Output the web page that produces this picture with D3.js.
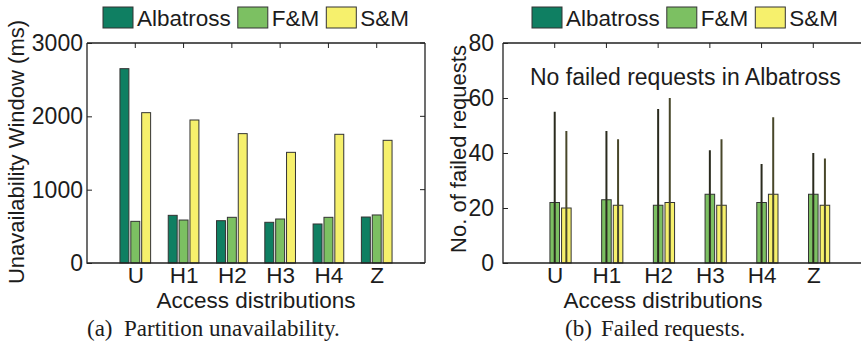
<!DOCTYPE html>
<html>
<head>
<meta charset="utf-8">
<script src="https://cdn.jsdelivr.net/npm/d3@7/dist/d3.min.js"></script>
<style>
  html, body { margin: 0; padding: 0; background: #fff; }
  svg { display: block; }
  text { font-family: "Liberation Sans", Arial, Helvetica, sans-serif; fill: #1c1c1c; }
  .cap { font-family: "Liberation Serif", "Times New Roman", serif; }
</style>
</head>
<body>
<svg id="fig" width="861" height="347"></svg>
<script>
// Access distributions on the x axis
const categories = ["U", "H1", "H2", "H3", "H4", "Z"];
const seriesNames = ["Albatross", "F&M", "S&M"];
const seriesColors = ["#0f7f62", "#7cc062", "#f6f06c"];

// (a) Partition unavailability window, ms
const albatrossWindow = [2650, 650, 577, 555, 532, 627];
const fmWindow = [568, 586, 623, 600, 623, 655];
const smWindow = [2050, 1950, 1764, 1509, 1755, 1673];
const windowTicks = [0, 1000, 2000, 3000];

// (b) Failed requests (mean, with range low..high)
const albatrossFailed = [0, 0, 0, 0, 0, 0];
const fmFailed = [22, 23, 21, 25, 22, 25];
const fmFailedLow = [0, 0, 0, 0, 0, 0];
const fmFailedHigh = [55, 48, 56, 41, 36, 40];
const smFailed = [20, 21, 22, 21, 25, 21];
const smFailedLow = [0, 0, 0, 0, 0, 0];
const smFailedHigh = [48, 45, 60, 45, 53, 38];
const failedTicks = [0, 20, 40, 60, 80];

const svg = d3.select("#fig");
const FONT = 23;
const TICK = 5;
const OFFSET = 0.225;   // group offset in category units
const BARW = 0.185;     // bar width in category units
const SANS = "'Liberation Sans', Arial, sans-serif";

function panel(opts) {
  const { left, right, top, bottom, yMax, yTicks, series, errors, yLabel, yLabelX, yLabelY,
          caption, captionTag, captionX, captionGap, clipRight, tickPad, titleX } = opts;
  const g = svg.append("g");
  const x = d3.scaleLinear().domain([0, categories.length + 1]).range([left, right]);
  const y = d3.scaleLinear().domain([0, yMax]).range([bottom, top]);
  const bw = x(BARW) - x(0);

  // bars
  series.forEach((vals, k) => {
    g.selectAll(null).data(vals).enter().append("rect")
      .attr("x", (d, i) => x(i + 1 + (k - 1) * OFFSET) - bw / 2)
      .attr("y", d => y(d))
      .attr("width", bw)
      .attr("height", d => y(0) - y(d))
      .attr("fill", seriesColors[k])
      .attr("stroke", "#333")
      .attr("stroke-width", 1);
  });

  // range lines
  if (errors) {
    errors.forEach(e => {
      g.selectAll(null).data(e.high).enter().append("line")
        .attr("x1", (d, i) => x(i + 1 + (e.k - 1) * OFFSET))
        .attr("x2", (d, i) => x(i + 1 + (e.k - 1) * OFFSET))
        .attr("y1", (d, i) => y(e.low[i]))
        .attr("y2", d => y(d))
        .attr("stroke", e.color)
        .attr("stroke-width", 2);
    });
  }

  // box frame
  const frame = d3.path();
  frame.moveTo(left, top); frame.lineTo(right, top);
  frame.moveTo(left, top); frame.lineTo(left, bottom); frame.lineTo(right, bottom);
  if (!clipRight) { frame.moveTo(right, top); frame.lineTo(right, bottom); }
  g.append("path").attr("d", frame.toString()).attr("fill", "none")
    .attr("stroke", "#222").attr("stroke-width", 1.3);

  // y axis via d3 axis (inner ticks), labels outside
  const yAxis = g.append("g").attr("transform", `translate(${left},0)`)
    .call(d3.axisLeft(y).tickValues(yTicks).tickFormat(d3.format("d"))
      .tickSizeInner(-TICK).tickSizeOuter(0).tickPadding(tickPad));
  yAxis.select(".domain").remove();
  yAxis.selectAll("line").attr("stroke", "#222");
  yAxis.selectAll("text").attr("font-size", FONT).attr("fill", "#1c1c1c")
    .style("font-family", SANS);
  if (!clipRight) {
    g.selectAll(null).data(yTicks).enter().append("line")
      .attr("x1", right).attr("x2", right - TICK)
      .attr("y1", d => y(d)).attr("y2", d => y(d)).attr("stroke", "#222");
  }

  // x axis: category labels, ticks on top edge
  const xAxis = g.append("g").attr("transform", `translate(0,${bottom})`)
    .call(d3.axisBottom(x).tickValues(d3.range(1, categories.length + 1))
      .tickFormat(i => categories[i - 1]).tickSize(0).tickPadding(0));
  xAxis.select(".domain").remove();
  xAxis.selectAll("text").attr("font-size", 22.5).attr("fill", "#1c1c1c")
    .attr("dy", null).attr("y", 283 - bottom)
    .style("font-family", SANS);
  g.selectAll(null).data(d3.range(1, categories.length + 1)).enter().append("line")
    .attr("x1", d => x(d)).attr("x2", d => x(d))
    .attr("y1", top).attr("y2", top + TICK).attr("stroke", "#222");

  // axis titles
  g.append("text").attr("x", titleX)
    .attr("y", 307.5).attr("text-anchor", "middle").attr("font-size", 22.5)
    .text("Access distributions");
  g.append("text").attr("transform", `translate(${yLabelX},${yLabelY}) rotate(-90)`)
    .attr("text-anchor", "middle").attr("dominant-baseline", "central")
    .attr("font-size", 22).text(yLabel);

  // caption
  g.append("text").attr("class", "cap").attr("x", captionX).attr("y", 336)
    .attr("font-size", 23).text(captionTag);
  g.append("text").attr("class", "cap").attr("x", captionX + captionGap).attr("y", 336)
    .attr("font-size", 23).text(caption);

  return { g, x, y };
}

function legend(x0) {
  const g = svg.append("g");
  const sw = 30, sh = 21, yTop = 7;
  let cx = x0;
  seriesNames.forEach((name, k) => {
    g.append("rect").attr("x", cx).attr("y", yTop).attr("width", sw).attr("height", sh)
      .attr("fill", seriesColors[k]).attr("stroke", "#333").attr("stroke-width", 1);
    const t = g.append("text").attr("x", cx + sw + 4).attr("y", yTop + sh - 2)
      .attr("font-size", 22.5).text(name);
    cx = cx + sw + 4 + t.node().getComputedTextLength() + 7;
  });
}

// (a) Partition unavailability
panel({
  left: 87, right: 425, top: 43, bottom: 263, yMax: 3000, yTicks: windowTicks,
  series: [albatrossWindow, fmWindow, smWindow], tickPad: 4, titleX: 256,
  yLabel: "Unavailability Window (ms)", yLabelX: 16, yLabelY: 152,
  captionTag: "(a)", caption: "Partition unavailability.", captionX: 87, captionGap: 37
});
legend(103);

// (b) Failed requests
const b = panel({
  left: 503, right: 865, top: 43, bottom: 263, yMax: 80, yTicks: failedTicks,
  series: [albatrossFailed, fmFailed, smFailed], tickPad: 9, titleX: 663,
  errors: [
    { k: 1, low: fmFailedLow, high: fmFailedHigh, color: "#2a2b1e" },
    { k: 2, low: smFailedLow, high: smFailedHigh, color: "#48472a" }
  ],
  yLabel: "No. of failed requests", yLabelX: 458, yLabelY: 149,
  captionTag: "(b)", caption: "Failed requests.", captionX: 565, captionGap: 36,
  clipRight: true
});
b.g.append("text").attr("x", 530).attr("y", 85).attr("font-size", FONT)
  .text("No failed requests in Albatross");
legend(532);
</script>
</body>
</html>
